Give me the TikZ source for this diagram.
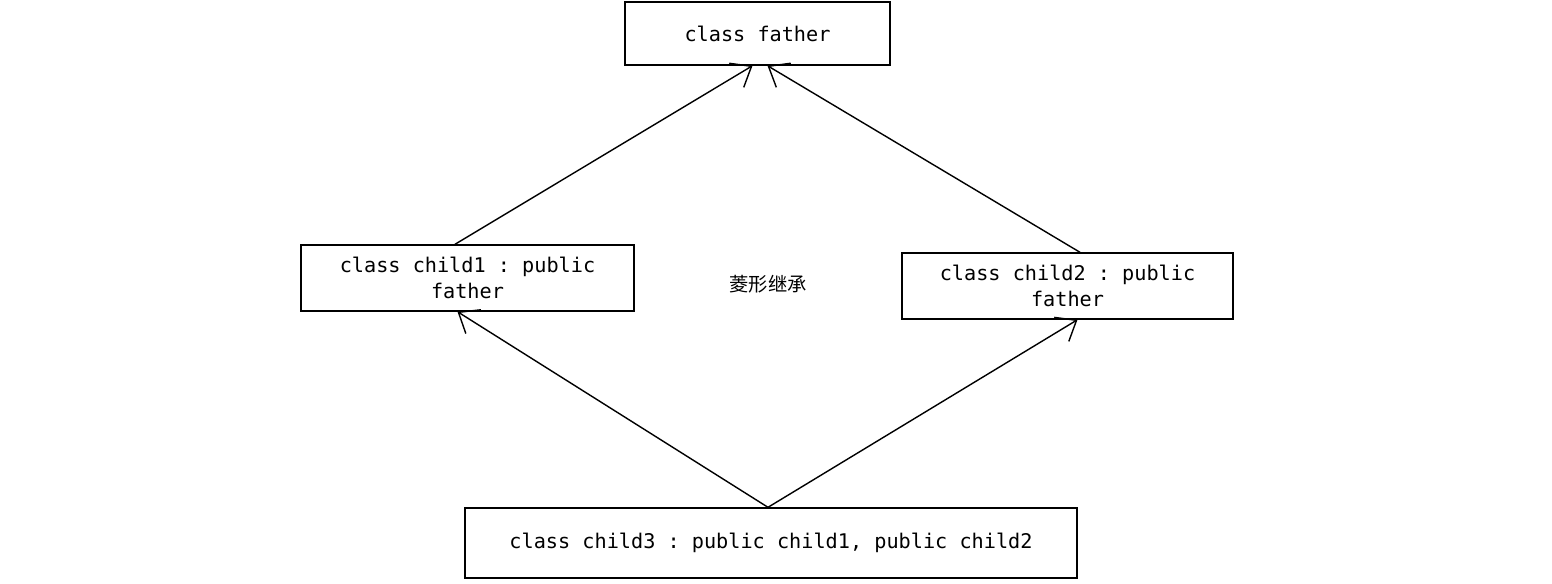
\documentclass[tikz,border=0pt]{standalone}
\usepackage{fontspec}
\setmonofont{DejaVu Sans Mono}
\newfontfamily\cjk{Noto Sans CJK SC}
\usetikzlibrary{arrows.meta}

\begin{document}
\begin{tikzpicture}[x=0.02cm,y=-0.02cm,
  cls/.style={draw,thick,font=\ttfamily\fontsize{11.5}{15}\selectfont,align=center,inner sep=0pt},
  inh/.style={thick,-{Straight Barb[length=10pt,width=16pt]}}]

\useasboundingbox (0,0) rectangle (1552,583);

%% Classes
\node[cls,minimum width=265*0.02cm,minimum height=63*0.02cm] (father) at (757.5,33.5) {class father};
\node[cls,minimum width=333*0.02cm,minimum height=66*0.02cm] (child1) at (467.5,278) {class child1 : public\\father};
\node[cls,minimum width=331*0.02cm,minimum height=66*0.02cm] (child2) at (1067.5,286) {class child2 : public\\father};
\node[cls,minimum width=612*0.02cm,minimum height=70*0.02cm] (child3) at (771,543) {class child3 : public child1, public child2};

%% Label
\node[font=\cjk\fontsize{11}{13}\selectfont] (diamond) at (768,284) {菱形继承};

%% Inheritance
\draw[inh] ([xshift=-0.25cm]child1.north) -- ([xshift=-0.1cm]father.south);
\draw[inh] ([xshift=0.25cm]child2.north) -- ([xshift=0.2cm]father.south);
\draw[inh] ([xshift=-0.06cm]child3.north) -- ([xshift=-0.2cm]child1.south);
\draw[inh] ([xshift=-0.06cm]child3.north) -- ([xshift=0.2cm]child2.south);

\end{tikzpicture}
\end{document}
